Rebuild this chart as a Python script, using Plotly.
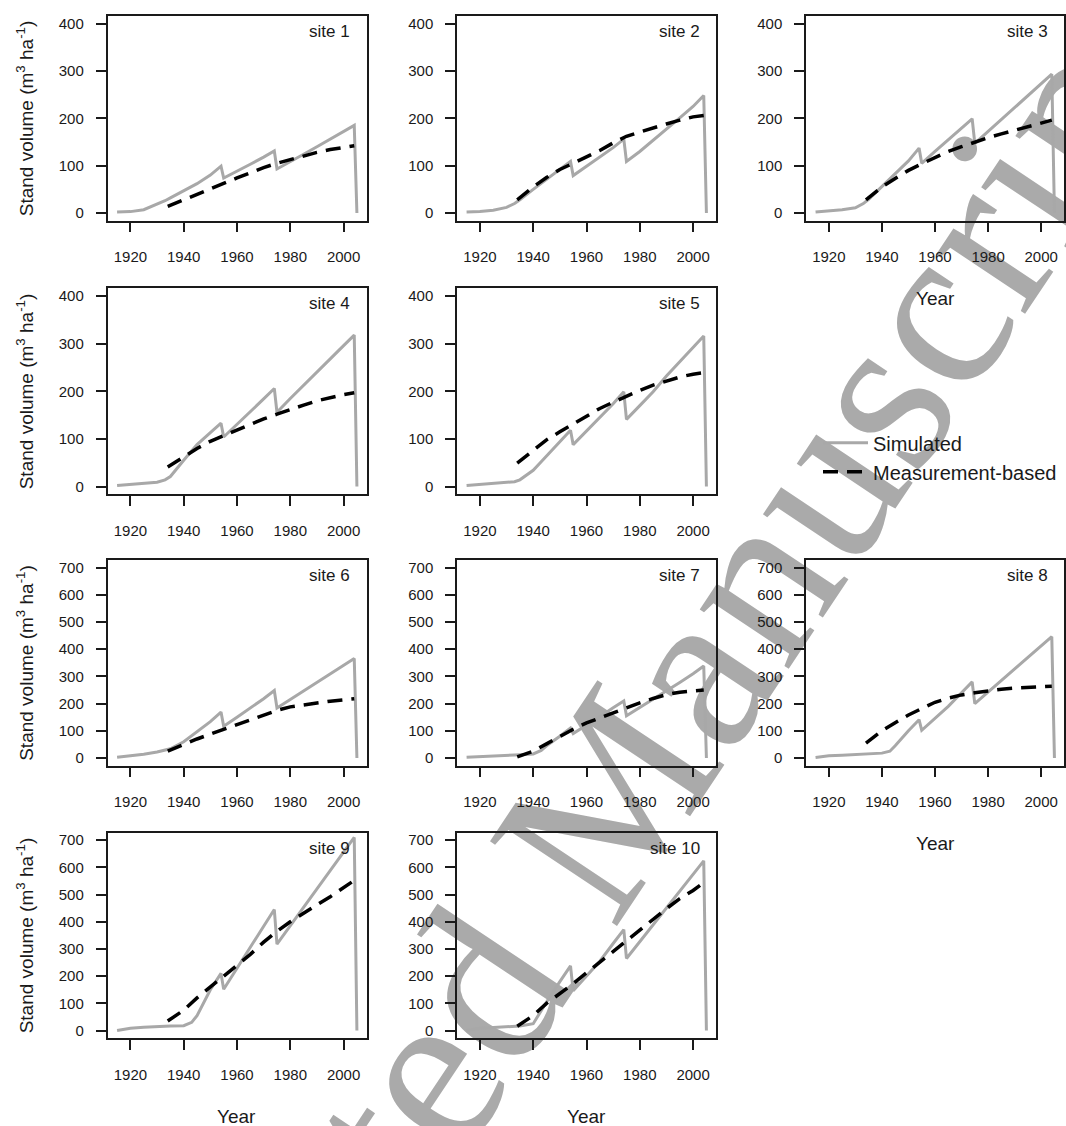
import plotly.graph_objects as go

W, H = 1066, 1126

# ---------------- data ----------------
sim_years = [1915, 1920, 1925, 1930, 1933, 1935, 1940, 1943, 1945, 1950, 1954, 1955,
             1960, 1965, 1970, 1974, 1975, 1980, 1985, 1990, 1995, 2000, 2004, 2005]
meas_years = [1934, 1940, 1945, 1950, 1955, 1960, 1965, 1970, 1975, 1980, 1985, 1990,
              1995, 2000, 2004]

sim_site1 = [2, 3, 7, 18, 26, 32, 47, 56, 62, 80, 99, 74, 88, 103, 118, 131, 93, 108, 124, 140, 156, 172, 185, 0]
sim_site2 = [2, 3, 6, 12, 20, 28, 50, 63, 71, 92, 109, 79, 99, 118, 138, 156, 109, 130, 153, 177, 201, 225, 248, 0]
sim_site3 = [2, 4, 7, 11, 20, 29, 56, 72, 83, 110, 137, 105, 130, 155, 178, 199, 147, 172, 196, 221, 246, 272, 293, 0]
sim_site4 = [2, 4, 6, 9, 14, 21, 55, 76, 88, 113, 133, 104, 130, 157, 184, 206, 156, 185, 212, 240, 268, 296, 318, 0]
sim_site5 = [2, 4, 6, 8, 10, 14, 34, 52, 64, 94, 118, 88, 116, 145, 174, 199, 141, 170, 199, 232, 262, 293, 316, 0]
sim_site6 = [3, 8, 14, 22, 28, 34, 60, 82, 97, 134, 169, 117, 150, 183, 218, 248, 184, 215, 246, 277, 307, 338, 366, 0]
sim_site7 = [3, 6, 8, 10, 11, 12, 15, 28, 45, 80, 110, 90, 120, 152, 185, 210, 155, 185, 215, 247, 278, 310, 338, 0]
sim_site8 = [2, 8, 10, 12, 14, 15, 18, 25, 45, 100, 141, 102, 145, 190, 240, 280, 200, 242, 285, 327, 370, 412, 446, 0]
sim_site9 = [0, 8, 12, 15, 16, 17, 18, 30, 55, 150, 210, 152, 229, 306, 383, 445, 318, 386, 453, 521, 588, 656, 710, 0]
sim_site10 = [0, 8, 11, 14, 16, 17, 25, 75, 105, 180, 238, 146, 200, 255, 320, 371, 265, 327, 389, 451, 513, 575, 624, 0]

meas_site1 = [14, 28, 40, 52, 63, 74, 85, 96, 105, 113, 121, 128, 134, 139, 142]
meas_site2 = [28, 55, 75, 92, 105, 118, 132, 148, 162, 171, 180, 188, 196, 203, 206]
meas_site3 = [28, 55, 73, 90, 104, 117, 130, 140, 150, 159, 167, 175, 183, 190, 196]
meas_site4 = [41, 62, 80, 95, 107, 119, 131, 142, 152, 162, 171, 180, 187, 193, 197]
meas_site5 = [49, 76, 98, 115, 132, 149, 164, 177, 190, 202, 213, 222, 230, 236, 239]
meas_site6 = [25, 50, 70, 88, 106, 124, 142, 160, 175, 188, 196, 203, 209, 214, 218]
meas_site7 = [4, 25, 52, 80, 106, 129, 148, 166, 185, 203, 219, 233, 242, 247, 250]
meas_site8 = [55, 100, 130, 158, 182, 205, 220, 232, 240, 247, 253, 257, 260, 262, 264]
meas_site9 = [35, 75, 120, 160, 200, 240, 280, 325, 365, 400, 432, 462, 492, 525, 552]
meas_site10 = [16, 55, 100, 135, 172, 212, 252, 290, 330, 372, 410, 448, 485, 515, 544]

site_names = ["site 1", "site 2", "site 3", "site 4", "site 5",
              "site 6", "site 7", "site 8", "site 9", "site 10"]
sim_series = [sim_site1, sim_site2, sim_site3, sim_site4, sim_site5,
              sim_site6, sim_site7, sim_site8, sim_site9, sim_site10]
meas_series = [meas_site1, meas_site2, meas_site3, meas_site4, meas_site5,
               meas_site6, meas_site7, meas_site8, meas_site9, meas_site10]

x_ticks = [1920, 1940, 1960, 1980, 2000]
y_ticks_small = [0, 100, 200, 300, 400]
y_ticks_large = [0, 100, 200, 300, 400, 500, 600, 700]
legend_names = ["Simulated", "Measurement-based"]
y_title = "Stand volume (m<sup>3</sup> ha<sup>-1</sup>)"
x_title = "Year"
watermark = "Accepted Manuscript"

# ---------------- layout geometry (pixels) ----------------
col_px = [(107.5, 366.5), (457, 716), (806, 1064)]
row_px = [(15, 220), (288, 494), (560, 766), (833, 1039)]
grid = [(0, 0), (0, 1), (0, 2), (1, 0), (1, 1), (2, 0), (2, 1), (2, 2), (3, 0), (3, 1)]
with_xtitle = {2, 7, 8, 9}

AX = "#1a1a1a"
SIM_C = "#A8A8A8"

fig = go.Figure()
layout = dict(
    width=W, height=H,
    margin=dict(l=0, r=0, t=0, b=0),
    paper_bgcolor="white",
    plot_bgcolor="rgba(0,0,0,0)",
    font=dict(family="Liberation Sans, Arial, sans-serif", color=AX),
    showlegend=True,
    legend=dict(x=818 / W, y=1 - 423 / H, xanchor="left", yanchor="top",
                bgcolor="rgba(0,0,0,0)", font=dict(size=20, color=AX),
                itemwidth=45, tracegroupgap=0),
)
annotations = []

for i in range(10):
    r, c = grid[i]
    n = i + 1
    xs = "" if n == 1 else str(n)
    fig.add_trace(go.Scatter(
        x=sim_years, y=sim_series[i], mode="lines",
        line=dict(color=SIM_C, width=3),
        name=legend_names[0], showlegend=(i == 0), legendgroup="sim",
        xaxis="x" + xs, yaxis="y" + xs, hoverinfo="skip"))
    fig.add_trace(go.Scatter(
        x=meas_years, y=meas_series[i], mode="lines",
        line=dict(color="black", width=3.5, dash="15px,9px"),
        name=legend_names[1], showlegend=(i == 0), legendgroup="meas",
        xaxis="x" + xs, yaxis="y" + xs, hoverinfo="skip"))

    x0, x1 = col_px[c]
    y0, y1 = row_px[r]
    big = r >= 2
    common = dict(ticks="outside", ticklen=10, tickwidth=1.5, tickcolor=AX,
                  showline=True, linecolor=AX, linewidth=1.5, mirror=True,
                  showgrid=False, zeroline=False,
                  tickfont=dict(size=15, color=AX))
    layout["xaxis" + xs] = dict(domain=[x0 / W, x1 / W], range=[1911.4, 2008.6],
                                tickvals=x_ticks, anchor="y" + xs,
                                ticklabelstandoff=12, **common)
    layout["yaxis" + xs] = dict(domain=[1 - y1 / H, 1 - y0 / H],
                                range=[-28, 728] if big else [-16, 416],
                                tickvals=y_ticks_large if big else y_ticks_small,
                                anchor="x" + xs, ticklabelstandoff=9, **common)

    annotations.append(dict(text=site_names[i], xref="x" + xs + " domain", yref="y" + xs + " domain",
                            x=1, y=1, xanchor="right", yanchor="top", xshift=-14, yshift=-4,
                            showarrow=False, font=dict(size=17, color=AX)))
    if c == 0:
        annotations.append(dict(text=y_title, xref="paper", yref="y" + xs + " domain",
                                x=25 / W, y=0.5, xanchor="center", yanchor="middle",
                                textangle=-90, showarrow=False, font=dict(size=19, color=AX)))
    if i in with_xtitle:
        annotations.append(dict(text=x_title, xref="x" + xs + " domain", yref="paper",
                                x=0.5, y=1 - (y1 + 78) / H, xanchor="center", yanchor="middle",
                                showarrow=False, font=dict(size=19, color=AX)))

layout["annotations"] = annotations
fig.update_layout(**layout)

# watermark, drawn beneath the panels
cx, cy = 561 / W, 1 - 823 / H
fig.add_shape(type="rect", xref="paper", yref="paper",
              x0=cx - 0.005, x1=cx + 0.005, y0=cy - 0.005, y1=cy + 0.005,
              line=dict(width=0, color="rgba(0,0,0,0)"), fillcolor="rgba(0,0,0,0)",
              layer="below",
              label=dict(text=watermark, textangle=-56.3, textposition="middle center",
                         font=dict(family="Liberation Serif, Times New Roman, serif",
                                   size=233, color="#AAAAAA")))

fig.write_html("out.html")
